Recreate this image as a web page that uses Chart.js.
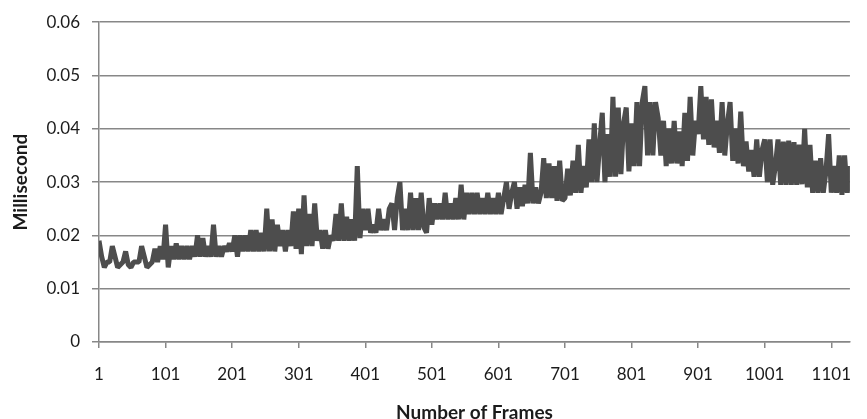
<!DOCTYPE html>
<html>
<head>
<meta charset="utf-8">
<script src="https://cdn.jsdelivr.net/npm/chart.js@4.4.1/dist/chart.umd.min.js"></script>
<style>
  html, body { margin: 0; padding: 0; background: #fff; }
  #wrap { width: 867px; height: 419px; }
</style>
</head>
<body>
<div id="wrap"><canvas id="chart" width="867" height="419"></canvas></div>
<script>
// one sample every 4 frames, starting at frame 1
const FRAME_STEP = 4;
const xTickFrames = [1, 101, 201, 301, 401, 501, 601, 701, 801, 901, 1001, 1101];
const yTickValues = [0, 0.01, 0.02, 0.03, 0.04, 0.05, 0.06];

// time per frame (ms), 25 samples per 100 frames
const frameTimes = [
  0.019, 0.016, 0.014, 0.015, 0.015, 0.018, 0.016, 0.014, 0.0145, 0.015, 0.017, 0.0145, 0.014, 0.015, 0.015, 0.015, 0.018, 0.016, 0.014, 0.0145, 0.015, 0.0175, 0.015, 0.018, 0.0155,
  0.022, 0.014, 0.018, 0.0155, 0.0185, 0.0155, 0.018, 0.0155, 0.018, 0.0155, 0.018, 0.016, 0.020, 0.016, 0.0195, 0.016, 0.018, 0.016, 0.022, 0.016, 0.018, 0.016, 0.018, 0.017, 0.0185,
  0.017, 0.020, 0.016, 0.020, 0.017, 0.020, 0.017, 0.021, 0.017, 0.021, 0.017, 0.0205, 0.017, 0.025, 0.017, 0.023, 0.017, 0.022, 0.018, 0.021, 0.017, 0.021, 0.018, 0.0245, 0.0175,
  0.025, 0.0165, 0.0275, 0.018, 0.024, 0.018, 0.026, 0.019, 0.021, 0.0175, 0.021, 0.0175, 0.020, 0.019, 0.024, 0.019, 0.026, 0.019, 0.0235, 0.019, 0.023, 0.019, 0.033, 0.0195, 0.025,
  0.021, 0.025, 0.0205, 0.022, 0.0205, 0.025, 0.021, 0.023, 0.021, 0.025, 0.026, 0.021, 0.027, 0.030, 0.021, 0.025, 0.021, 0.028, 0.021, 0.027, 0.021, 0.028, 0.0215, 0.0205, 0.027,
  0.022, 0.026, 0.023, 0.026, 0.023, 0.028, 0.023, 0.026, 0.023, 0.027, 0.023, 0.0295, 0.023, 0.028, 0.024, 0.028, 0.024, 0.028, 0.024, 0.027, 0.024, 0.028, 0.024, 0.027, 0.024,
  0.028, 0.024, 0.027, 0.030, 0.025, 0.028, 0.030, 0.025, 0.029, 0.0255, 0.0295, 0.026, 0.0355, 0.026, 0.029, 0.026, 0.028, 0.0345, 0.027, 0.0335, 0.027, 0.033, 0.0265, 0.034, 0.0265,
  0.027, 0.0325, 0.0275, 0.034, 0.028, 0.037, 0.028, 0.033, 0.029, 0.038, 0.030, 0.041, 0.030, 0.037, 0.043, 0.030, 0.039, 0.031, 0.046, 0.031, 0.044, 0.0315, 0.041, 0.044, 0.032,
  0.041, 0.033, 0.045, 0.033, 0.045, 0.048, 0.035, 0.045, 0.035, 0.045, 0.042, 0.035, 0.0415, 0.033, 0.040, 0.0335, 0.0415, 0.0335, 0.0395, 0.033, 0.043, 0.034, 0.046, 0.035, 0.0415,
  0.039, 0.048, 0.038, 0.046, 0.037, 0.0455, 0.0365, 0.0415, 0.0355, 0.045, 0.035, 0.041, 0.045, 0.034, 0.040, 0.0335, 0.0432, 0.033, 0.0376, 0.032, 0.036, 0.031, 0.038, 0.031, 0.036,
  0.038, 0.030, 0.038, 0.0295, 0.033, 0.038, 0.0295, 0.0376, 0.0295, 0.0378, 0.0295, 0.0375, 0.0295, 0.037, 0.0296, 0.040, 0.029, 0.037, 0.028, 0.034, 0.028, 0.0345, 0.028, 0.032, 0.039,
  0.028, 0.033, 0.028, 0.035, 0.0276, 0.035, 0.028, 0.033,
];

const AXIS_GREY = "#878787";
const TEXT = "#1b1b1b";
const FONT = "Lato, 'Open Sans', sans-serif";

const points = frameTimes.map((v, i) => ({ x: 1 + i * FRAME_STEP, y: v }));
const lastFrame = 1 + (frameTimes.length - 1) * FRAME_STEP;

new Chart(document.getElementById("chart"), {
  type: "line",
  data: {
    datasets: [
      {
        label: "Millisecond",
        data: points,
        borderColor: "#4d4d4d",
        borderWidth: 5,
        borderJoinStyle: "bevel",
        pointRadius: 0,
        tension: 0,
        fill: false,
      },
    ],
  },
  options: {
    responsive: false,
    animation: false,
    layout: { padding: { top: 22, right: 0, bottom: 0, left: 0 } },
    plugins: { legend: { display: false }, tooltip: { enabled: false } },
    scales: {
      x: {
        type: "linear",
        min: 1,
        max: lastFrame,
        afterBuildTicks: (s) => { s.ticks = xTickFrames.map((v) => ({ value: v })); },
        afterFit: (s) => { s.height = 77; },
        grid: { drawOnChartArea: false, drawTicks: true, tickLength: 6, color: AXIS_GREY, lineWidth: 1.5 },
        border: { color: AXIS_GREY, width: 1.5 },
        ticks: {
          padding: 16, maxRotation: 0, autoSkip: false, color: TEXT,
          font: { family: FONT, size: 17 },
          callback: (v) => String(v),
        },
        title: {
          display: true, text: "Number of Frames", color: TEXT,
          font: { family: FONT, size: 19, weight: "bold", lineHeight: 1 },
          padding: { top: 0, bottom: -3 },
        },
      },
      y: {
        min: 0,
        max: 0.06,
        afterBuildTicks: (s) => { s.ticks = yTickValues.map((v) => ({ value: v })); },
        afterFit: (s) => { s.width = 99; },
        grid: { color: AXIS_GREY, lineWidth: 1.5, tickLength: 7 },
        border: { color: AXIS_GREY, width: 1.5 },
        ticks: {
          padding: 12, color: TEXT,
          font: { family: FONT, size: 17 },
          callback: (v) => (v === 0 ? "0" : v.toFixed(2)),
        },
        title: {
          display: true, text: "Millisecond", color: TEXT,
          font: { family: FONT, size: 19, weight: "bold", lineHeight: 1 },
          padding: { top: 11, bottom: 0 },
        },
      },
    },
  },
});
</script>
</body>
</html>
